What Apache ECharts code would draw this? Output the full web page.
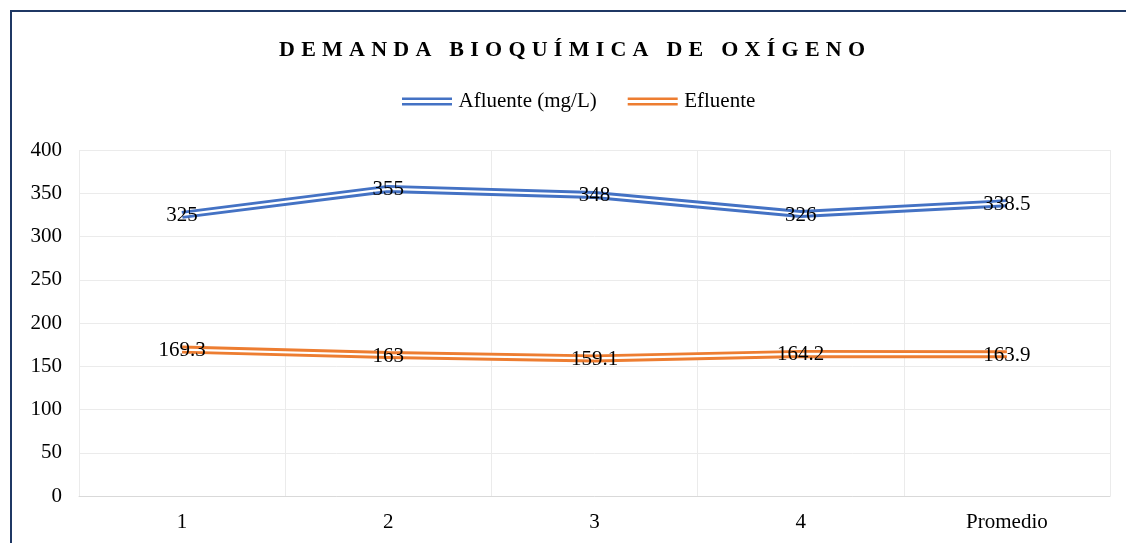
<!DOCTYPE html>
<html>
<head>
<meta charset="utf-8">
<script src="https://cdn.jsdelivr.net/npm/echarts@6/dist/echarts.min.js"></script>
<style>
  html, body { margin: 0; padding: 0; background: #fff; }
  #chart { width: 1126px; height: 543px; }
</style>
</head>
<body>
<div id="chart"></div>
<script>
// datos del gráfico
const categories = ['1', '2', '3', '4', 'Promedio']
const afluente = [325, 355, 348, 326, 338.5]
const efluente = [169.3, 163, 159.1, 164.2, 163.9]
const titleText = 'DEMANDA BIOQUÍMICA DE OXÍGENO'

const FONT = '"Liberation Serif", "Times New Roman", serif'
const BLUE = '#4472C4'
const ORANGE = '#ED7D31'

// espaciado entre letras del título (ECharts no tiene letterSpacing)
const gap = '\u2009\u200A'
const spaced = titleText
  .split(' ')
  .map(w => w.split('').join(gap))
  .join(gap + ' ' + gap)

// línea doble: una línea gruesa de color y una blanca fina encima
const doubleLine = (name, data, color) => [
  {
    name: name,
    type: 'line',
    data: data,
    symbol: 'none',
    lineStyle: { color: color, width: 8 },
    itemStyle: { color: color },
    z: 2
  },
  {
    name: name + '_inner',
    type: 'line',
    data: data,
    symbol: 'circle',
    symbolSize: 2,
    lineStyle: { color: '#fff', width: 2.2 },
    itemStyle: { color: '#fff', borderWidth: 0 },
    label: {
      show: true,
      position: 'inside',
      offset: [0, 1],
      color: '#000',
      fontFamily: FONT,
      fontSize: 21
    },
    z: 3
  }
]

const chart = echarts.init(document.getElementById('chart'))

const option = {
  animation: false,
  graphic: [
    {
      type: 'rect',
      shape: { x: 11, y: 11, width: 1140, height: 560 },
      style: { fill: 'none', stroke: '#1F3864', lineWidth: 2 },
      silent: true
    }
  ],
  title: {
    text: spaced,
    left: 274,
    top: 34,
    textStyle: {
      fontFamily: FONT,
      fontWeight: 'bold',
      fontSize: 22,
      color: '#000'
    }
  },
  legend: {
    top: 86,
    left: 397,
    data: [
      { name: 'Afluente (mg/L)', icon: 'path://M0,0H50V2.6H0Z M0,5.4H50V8H0Z' },
      { name: 'Efluente', icon: 'path://M0,0H50V2.6H0Z M0,5.4H50V8H0Z' }
    ],
    itemWidth: 51,
    itemHeight: 8,
    itemGap: 31,
    textStyle: {
      fontFamily: FONT,
      fontSize: 21,
      color: '#000',
      padding: [0, 0, 0, 1]
    }
  },
  grid: {
    left: 79,
    right: 16,
    top: 150,
    bottom: 47
  },
  xAxis: {
    type: 'category',
    data: categories,
    boundaryGap: true,
    axisLine: { lineStyle: { color: '#D9D9D9', width: 1 } },
    axisTick: { show: false },
    splitLine: { show: true, lineStyle: { color: '#EBEBEB', width: 1 } },
    axisLabel: {
      fontFamily: FONT,
      fontSize: 21,
      color: '#000',
      margin: 16
    }
  },
  yAxis: {
    type: 'value',
    min: 0,
    max: 400,
    interval: 50,
    axisLine: { show: false },
    axisTick: { show: false },
    splitLine: { lineStyle: { color: '#EBEBEB', width: 1 } },
    axisLabel: {
      fontFamily: FONT,
      fontSize: 21,
      color: '#000',
      margin: 17
    }
  },
  series: [
    ...doubleLine('Afluente (mg/L)', afluente, BLUE),
    ...doubleLine('Efluente', efluente, ORANGE)
  ]
}

chart.setOption(option)
</script>
</body>
</html>
